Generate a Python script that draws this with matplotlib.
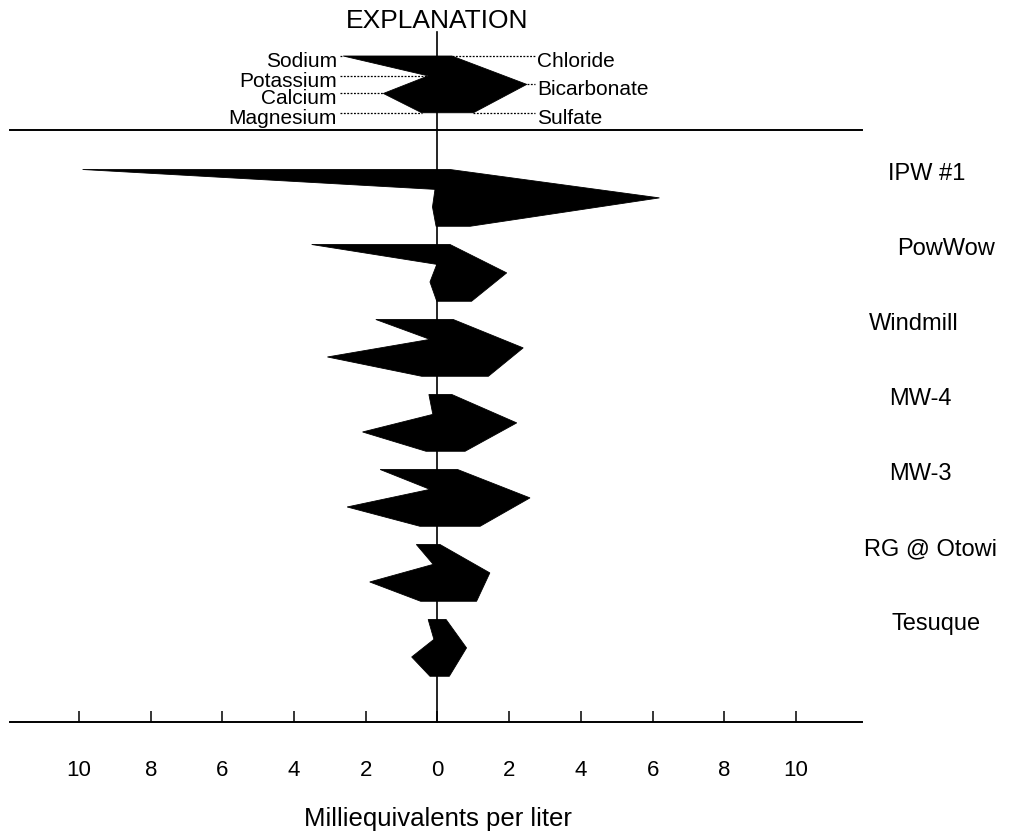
import matplotlib
matplotlib.use("Agg")
import matplotlib.pyplot as plt
from matplotlib.patches import Polygon

plt.rcParams['font.family'] = ['Liberation Sans', 'DejaVu Sans']

# ---------------- data (milliequivalents per liter) ----------------
samples = ["IPW #1", "PowWow", "Windmill", "MW-4", "MW-3", "RG @ Otowi", "Tesuque"]
sodium      = [9.90, 3.51, 1.72, 0.24, 1.60, 0.59, 0.26]
potassium   = [0.07, 0.02, 0.21, 0.13, 0.21, 0.12, 0.10]
calcium     = [0.14, 0.21, 3.07, 2.09, 2.52, 1.89, 0.72]
magnesium   = [0.04, 0.02, 0.44, 0.32, 0.49, 0.47, 0.21]
chloride    = [0.35, 0.35, 0.44, 0.40, 0.56, 0.07, 0.24]
bicarbonate = [6.19, 1.93, 2.39, 2.21, 2.58, 1.46, 0.81]
sulfate     = [0.91, 0.95, 1.42, 0.77, 1.19, 1.09, 0.33]

# explanation (example) diagram
expl_cations = ["Sodium", "Potassium", "Calcium", "Magnesium"]
expl_anions = ["Chloride", "Bicarbonate", "Sulfate"]
expl_cation_vals = [2.63, 0.26, 1.51, 0.44]
expl_anion_vals = [0.40, 2.49, 1.00]

tick_values = [-10, -8, -6, -4, -2, 0, 2, 4, 6, 8, 10]
tick_labels = ["10", "8", "6", "4", "2", "0", "2", "4", "6", "8", "10"]

# ---------------- layout ----------------
W, H = 1016, 832
PX_PER_UNIT = 35.85
X0_PX = 437.5
SLOT_PX = 75.0
Y0_PX = 169.5


def xu(px):
    return (px - X0_PX) / PX_PER_UNIT


def yu(py):
    return (py - Y0_PX) / SLOT_PX


POLY_H = 0.757
LEFT_FR = [0.0, 0.35, 0.66, 1.0]
RIGHT_FR = [0.0, 0.5, 1.0]
label_x_px = [927, 946, 914, 920, 920, 931, 936]

fig = plt.figure(figsize=(W / 100, H / 100), dpi=100)
ax = fig.add_axes([0, 0, 1, 1])
ax.set_xlim(xu(0), xu(W))
ax.set_ylim(yu(H), yu(0))
ax.axis('off')


def stiff(top, cat, an):
    left = [(-v, top + f * POLY_H) for v, f in zip(cat, LEFT_FR)]
    right = [(v, top + f * POLY_H) for v, f in zip(an, RIGHT_FR)]
    pts = left + right[::-1]
    ax.add_patch(Polygon(pts, closed=True, facecolor='black', edgecolor='black',
                         linewidth=0.6, zorder=3))
    return left, right


# sample diagrams
for i, name in enumerate(samples):
    top = float(i)
    stiff(top, [sodium[i], potassium[i], calcium[i], magnesium[i]],
          [chloride[i], bicarbonate[i], sulfate[i]])
    ax.text(xu(label_x_px[i]), top + 0.06, name, ha='center', va='center',
            fontsize=17)

# explanation diagram
etop = yu(56)
left, right = stiff(etop, expl_cation_vals, expl_anion_vals)
lx_end = xu(340)
rx_end = xu(535)
for (x, y), name in zip(left, expl_cations):
    ax.plot([lx_end, x], [y, y], color='black', lw=0.9, ls=(0, (1.5, 1.2)), zorder=2)
    ax.text(xu(337), y + 0.07, name, ha='right', va='center', fontsize=15)
for (x, y), name in zip(right, expl_anions):
    ax.plot([x, rx_end], [y, y], color='black', lw=0.9, ls=(0, (1.5, 1.2)), zorder=2)
    ax.text(xu(537), y + 0.07, name, ha='left', va='center', fontsize=15)
ax.text(0, yu(21), "EXPLANATION", ha='center', va='center', fontsize=19)

# separator, center line and axis
ax.plot([xu(10), xu(862)], [yu(130), yu(130)], color='black', lw=1.4, zorder=2)
ax.plot([xu(10), xu(862)], [yu(722), yu(722)], color='black', lw=1.4, zorder=2)
ax.plot([0, 0], [yu(32), yu(722)], color='black', lw=1.2, zorder=4)
ax.vlines(tick_values, yu(711), yu(722), color='black', lw=1.1)
for v, lab in zip(tick_values, tick_labels):
    ax.text(v, yu(771), lab, ha='center', va='center', fontsize=16)
ax.text(0, yu(819), "Milliequivalents per liter", ha='center', va='center', fontsize=18.5)

fig.savefig("out.png", dpi=100)
